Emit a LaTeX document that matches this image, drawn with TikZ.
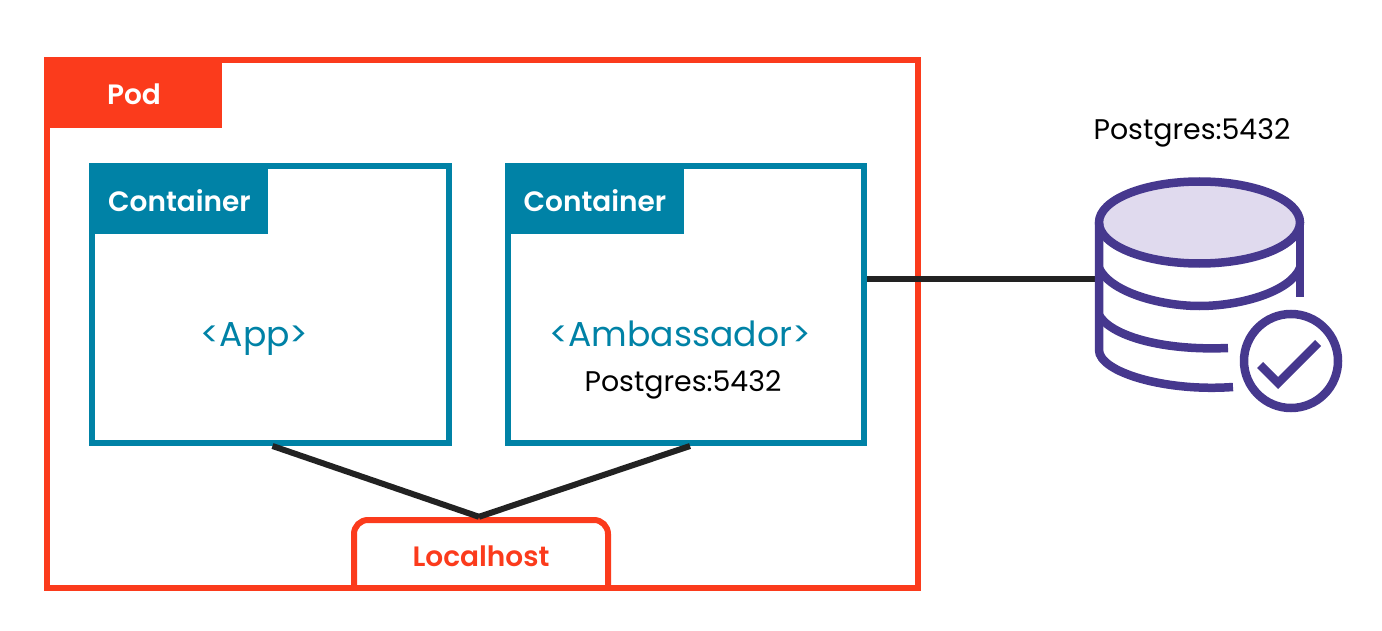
\documentclass[tikz,border=0pt]{standalone}
\usepackage{fontspec}
\setmainfont{Poppins}
\newfontfamily\semibold{Poppins SemiBold}
\usetikzlibrary{positioning}
\definecolor{c1}{RGB}{251,59,28}
\definecolor{c2}{RGB}{0,130,166}
\definecolor{c3}{RGB}{70,56,142}
\definecolor{c4}{RGB}{224,218,238}
\definecolor{c5}{RGB}{34,34,34}
\tikzset{
    box/.style={draw=#1,line width=6pt,inner sep=0pt},
    tab/.style={fill=#1,anchor=north west,inner sep=0pt},
    label/.style={inner sep=0pt,anchor=base,font=\fontsize{28}{32}\selectfont\semibold},
    wire/.style={draw=c5,line width=6pt},
    icon/.style={draw=c3,line width=8.5pt},
    caption/.style={inner sep=0pt,anchor=base,font=\fontsize{28.4}{34}\selectfont},
    title/.style={inner sep=0pt,anchor=base,text=c2,font=\fontsize{34.6}{40}\selectfont}
}

\begin{document}
\begin{tikzpicture}[x=1pt,y=-1pt]
    \useasboundingbox (0,0) rectangle (1382,631);
    % the pod and its tab
    \node[box=c1,minimum width=871pt,minimum height=528pt] (pod) at (482.5,324) {};
    \node[tab=c1,minimum width=178pt,minimum height=71pt] (podtab) at (pod.north west) {};
    \node[label,text=white] (podtext) at (134,105) {Pod};

    % the two containers
    \node[box=c2,minimum width=357pt,minimum height=277pt] (app) at (270.5,304.5) {};
    \node[tab=c2,minimum width=179pt,minimum height=71pt] (apptab) at (app.north west) {};
    \node[label,text=white] (apptext) at (179.5,212) {Container};
    \node[box=c2,minimum width=356pt,minimum height=277pt] (ambassador) at (686,304.5) {};
    \node[tab=c2,minimum width=179pt,minimum height=71pt] (ambassadortab) at (ambassador.north west) {};
    \node[label,text=white] (ambassadortext) at (595,212) {Container};
    \node[title] (appname) at (254.5,346) {<App>};
    \node[title] (ambassadorname) at (680,346) {<Ambassador>};
    \node[caption] (ambassadorport) at (683,391) {Postgres:5432};

    % localhost sits on the pod's bottom edge, only the top corners are round
    \node[inner sep=0pt,minimum width=260pt,minimum height=71pt] (localhost) at (481,552.5) {};
    \node[label,text=c1] (localhosttext) at (481,566) {Localhost};
    \draw[draw=c1,line width=6pt,rounded corners=14pt] (354,588) -- (354,520) -- (608,520) -- (608,588);

    % connectors
    \coordinate (dbwest) at (1095,279);
    \draw[wire] ([xshift=2pt]app.south) -- ([xshift=-2pt]localhost.north);
    \draw[wire] ([xshift=4pt]ambassador.south) -- ([xshift=-2pt]localhost.north);
    \draw[wire] (ambassador.east |- dbwest) -- (dbwest);

    % the database
    \node[caption] (dbport) at (1192,140) {Postgres:5432};
    \draw[icon,fill=c4] (1199.5,222.5) ellipse (100.5 and 41);
    \draw[icon] (1099,223) -- (1099,350) .. controls (1099,372) and (1165,392) .. (1233,387);
    \draw[icon] (1300,223) -- (1300,297);
    \draw[icon] (1099,268) .. controls (1110,292) and (1160,306) .. (1199.5,306) .. controls (1240,306) and (1290,292) .. (1300,268);
    \draw[icon] (1099,315) .. controls (1110,335) and (1160,351) .. (1228,348);
    % the check mark
    \node[icon,circle,minimum size=94pt,inner sep=0pt] (check) at (1291,361) {};
    \draw[icon] (1260,365) -- (1278,383) -- (1318,343);
\end{tikzpicture}
\end{document}
